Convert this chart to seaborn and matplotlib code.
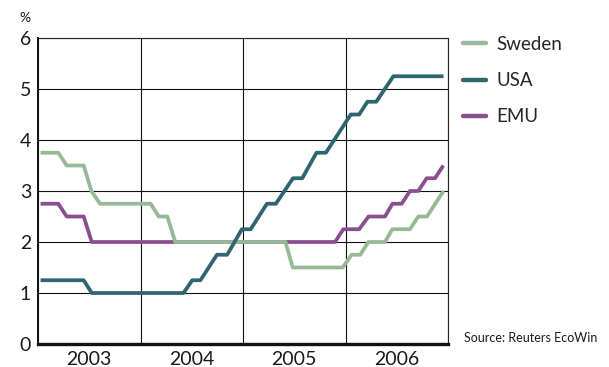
import matplotlib
matplotlib.use("Agg")
import matplotlib.pyplot as plt
import seaborn as sns
import pandas as pd

# Policy rates, vertices of each step line (x: months since January 2003)
sweden_x = [0.3, 2.38, 3.36, 5.35, 6.25, 7.26, 13.19, 14.13, 15.14, 16.07,
            28.97, 29.82, 35.67, 36.72, 37.73, 38.67, 40.62, 41.48, 43.55,
            44.52, 45.54, 47.48]
sweden_y = [3.75, 3.75, 3.5, 3.5, 3.0, 2.75, 2.75, 2.5, 2.5, 2.0,
            2.0, 1.5, 1.5, 1.75, 1.75, 2.0, 2.0, 2.25, 2.25,
            2.5, 2.5, 3.0]

usa_x = [0.3, 5.35, 6.29, 17.03, 18.06, 19.02, 20.95, 22.15, 23.87, 24.9,
         26.8, 27.85, 29.85, 30.94, 32.6, 33.7, 36.62, 37.6, 38.57, 39.6,
         41.6, 47.48]
usa_y = [1.25, 1.25, 1.0, 1.0, 1.25, 1.25, 1.75, 1.75, 2.25, 2.25,
         2.75, 2.75, 3.25, 3.25, 3.75, 3.75, 4.5, 4.5, 4.75, 4.75,
         5.25, 5.25]

emu_x = [0.3, 2.38, 3.36, 5.35, 6.29, 34.77, 35.74, 37.6, 38.7, 40.62,
         41.5, 42.58, 43.55, 44.52, 45.5, 46.48, 47.45]
emu_y = [2.75, 2.75, 2.5, 2.5, 2.0, 2.0, 2.25, 2.25, 2.5, 2.5,
         2.75, 2.75, 3.0, 3.0, 3.25, 3.25, 3.5]

countries = ["Sweden", "USA", "EMU"]
colors = {"Sweden": "#98b998", "USA": "#2f6570", "EMU": "#8a4f8e"}
years = ["2003", "2004", "2005", "2006"]
y_ticks = [0, 1, 2, 3, 4, 5, 6]

frames = []
for name, xs, ys in [("Sweden", sweden_x, sweden_y),
                     ("USA", usa_x, usa_y),
                     ("EMU", emu_x, emu_y)]:
    frames.append(pd.DataFrame({"month": xs, "rate": ys, "country": name}))
df = pd.concat(frames, ignore_index=True)

sns.set_theme(style="white")
plt.rcParams["font.family"] = ["Lato", "DejaVu Sans"]

W, H = 609, 367
fig = plt.figure(figsize=(W / 100, H / 100), dpi=100)
ax = fig.add_axes([38 / W, (H - 344) / H, (448 - 38) / W, (344 - 38) / H])

sns.lineplot(data=df, x="month", y="rate", hue="country", hue_order=countries,
             palette=colors, sort=False, estimator=None, linewidth=2.7, ax=ax)

# stacking: EMU underneath, USA on top
for line, z in zip(ax.lines[:3], [2.2, 2.3, 2.1]):
    line.set_zorder(z)
    line.set_solid_capstyle("butt")
    line.set_solid_joinstyle("round")

ax.set_xlim(0, 48)
ax.set_ylim(0, 6)
ax.set_xticks([0, 12, 24, 36, 48])
ax.set_xticklabels([])
ax.set_xticks([6, 18, 30, 42], minor=True)
ax.set_xticklabels(years, minor=True)
ax.set_yticks(y_ticks)
ax.set_yticklabels([str(v) for v in y_ticks])
ax.tick_params(which="both", length=0, labelsize=14, colors="#1a1a1a")
ax.tick_params(axis="x", which="minor", pad=5)
ax.tick_params(axis="y", pad=5)
ax.grid(True, which="major", color="#111111", linewidth=0.8)
ax.set_xlabel("")
ax.set_ylabel("")

for side in ["top", "right"]:
    ax.spines[side].set_color("#222222")
    ax.spines[side].set_linewidth(0.8)
ax.spines["left"].set_color("#111111")
ax.spines["left"].set_linewidth(1.4)
ax.spines["bottom"].set_color("#111111")
ax.spines["bottom"].set_linewidth(2.4)

sns.move_legend(ax, "upper left", bbox_to_anchor=(463 / W, 1 - 36 / H),
                bbox_transform=fig.transFigure, frameon=False, title=None,
                fontsize=13.5, handlelength=1.2, handletextpad=0.6,
                labelspacing=1.02, borderpad=0, borderaxespad=0)
for h in ax.get_legend().legend_handles:
    h.set_linewidth(3.2)
    h.set_solid_capstyle("round")

fig.text(25 / W, 1 - 18 / H, "%", fontsize=10, ha="center", va="center",
         color="#1a1a1a")
fig.text(464 / W, 1 - 338 / H, "Source: Reuters EcoWin", fontsize=9,
         ha="left", va="center", color="#1a1a1a")

fig.savefig("out.png", dpi=100)
